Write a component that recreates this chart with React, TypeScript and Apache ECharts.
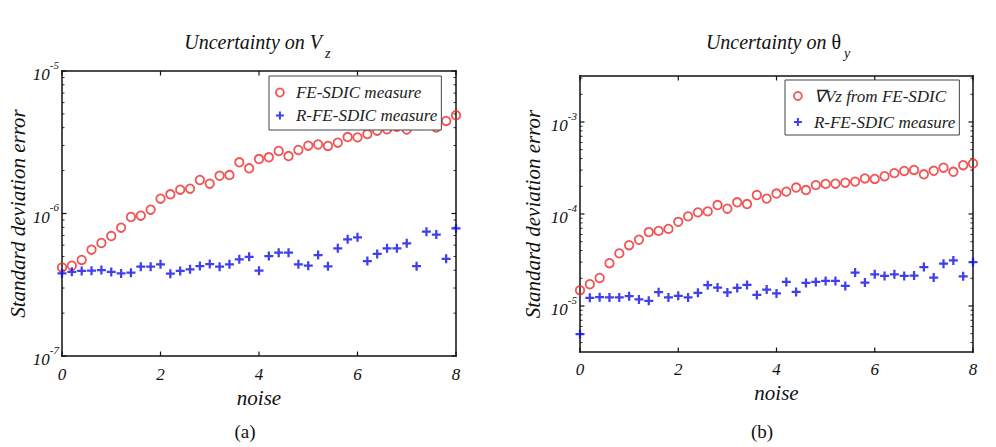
import React, { useEffect, useRef } from "react";
import * as echarts from "echarts";

// noise levels (x)
const noise = [0, 0.2, 0.4, 0.6, 0.8, 1, 1.2, 1.4, 1.6, 1.8, 2, 2.2, 2.4, 2.6, 2.8, 3, 3.2, 3.4, 3.6, 3.8, 4, 4.2, 4.4, 4.6, 4.8, 5, 5.2, 5.4, 5.6, 5.8, 6, 6.2, 6.4, 6.6, 6.8, 7, 7.2, 7.4, 7.6, 7.8, 8];

// (a) Uncertainty on Vz
const vzFeSdic = [4.18e-7, 4.30e-7, 4.72e-7, 5.57e-7, 6.21e-7, 6.95e-7, 7.95e-7, 9.45e-7, 9.65e-7, 1.063e-6, 1.27e-6, 1.364e-6, 1.469e-6, 1.493e-6, 1.718e-6, 1.618e-6, 1.84e-6, 1.862e-6, 2.287e-6, 2.076e-6, 2.41e-6, 2.48e-6, 2.746e-6, 2.53e-6, 2.79e-6, 2.99e-6, 3.05e-6, 2.98e-6, 3.14e-6, 3.44e-6, 3.42e-6, 3.61e-6, 3.81e-6, 3.90e-6, 4.06e-6, 3.88e-6, 4.18e-6, 4.30e-6, 4.01e-6, 4.46e-6, 4.89e-6];
const vzRFeSdic = [3.80e-7, 3.90e-7, 3.95e-7, 3.97e-7, 4.01e-7, 3.89e-7, 3.80e-7, 3.84e-7, 4.23e-7, 4.23e-7, 4.40e-7, 3.78e-7, 3.95e-7, 4.06e-7, 4.28e-7, 4.42e-7, 4.23e-7, 4.40e-7, 4.77e-7, 4.97e-7, 3.97e-7, 5.03e-7, 5.31e-7, 5.31e-7, 4.40e-7, 4.30e-7, 5.11e-7, 4.26e-7, 5.70e-7, 6.59e-7, 6.81e-7, 4.64e-7, 5.20e-7, 5.70e-7, 5.70e-7, 6.18e-7, 4.27e-7, 7.45e-7, 7.12e-7, 4.81e-7, 7.87e-7];

// (b) Uncertainty on theta_y
const thetaFeSdic = [1.485e-5, 1.724e-5, 2.016e-5, 2.92e-5, 3.73e-5, 4.58e-5, 5.25e-5, 6.36e-5, 6.55e-5, 6.89e-5, 8.22e-5, 9.42e-5, 1.041e-4, 1.067e-4, 1.251e-4, 1.141e-4, 1.341e-4, 1.282e-4, 1.608e-4, 1.47e-4, 1.669e-4, 1.75e-4, 1.938e-4, 1.82e-4, 2.062e-4, 2.124e-4, 2.135e-4, 2.189e-4, 2.25e-4, 2.436e-4, 2.406e-4, 2.573e-4, 2.78e-4, 2.935e-4, 3.01e-4, 2.70e-4, 2.95e-4, 3.186e-4, 2.877e-4, 3.39e-4, 3.54e-4];
const thetaRFeSdic = [4.94e-6, 1.227e-5, 1.248e-5, 1.239e-5, 1.239e-5, 1.279e-5, 1.178e-5, 1.138e-5, 1.413e-5, 1.239e-5, 1.289e-5, 1.239e-5, 1.389e-5, 1.681e-5, 1.588e-5, 1.403e-5, 1.572e-5, 1.694e-5, 1.321e-5, 1.511e-5, 1.368e-5, 1.825e-5, 1.42e-5, 1.78e-5, 1.825e-5, 1.871e-5, 1.871e-5, 1.652e-5, 2.307e-5, 1.798e-5, 2.211e-5, 2.119e-5, 2.211e-5, 2.119e-5, 2.14e-5, 2.651e-5, 2.037e-5, 2.884e-5, 3.131e-5, 2.103e-5, 3.0e-5];

const xTicks = [0, 2, 4, 6, 8];
const decadesA = [-7, -6, -5];
const decadesB = [-6, -5, -4, -3];
const legendA = ["FE-SDIC measure", "R-FE-SDIC measure"];
const legendB = ["\u2207Vz from FE-SDIC", "R-FE-SDIC measure"];

const SERIF = '"Liberation Serif", "Times New Roman", serif';
const RED = "#ee2a2a";
const BLUE = "#0f0fe6";
const INK = "#111111";
const PLUS = "path://M3,0H5V3H8V5H5V8H3V5H0V3H3Z";

const pairs = (ys: number[]) => ys.map((y, i) => [noise[i], y]);

function App() {
  const ref = useRef<HTMLDivElement>(null);

  useEffect(() => {
    if (!ref.current) return;
    const chart = echarts.init(ref.current, null, { renderer: "svg" });

    const yRich = {
      b: {
        fontFamily: SERIF,
        fontStyle: "italic",
        fontSize: 17,
        color: INK,
        lineHeight: 24,
        padding: [8, 0, 0, 0],
        verticalAlign: "bottom",
      },
      e: {
        fontFamily: SERIF,
        fontStyle: "italic",
        fontSize: 11,
        color: INK,
        lineHeight: 16,
        verticalAlign: "top",
      },
    };
    const yFormatter = (v: number) => {
      const e = Math.round(Math.log10(v));
      return `{b|10}{e|${e}}`;
    };

    const xBottom = (g: number, margin: number, nameGap: number) => ({
      type: "value",
      gridIndex: g,
      position: "bottom",
      min: xTicks[0],
      max: xTicks[xTicks.length - 1],
      interval: 2,
      axisLine: { show: false },
      axisTick: { show: false },
      axisLabel: {
        margin,
        fontFamily: SERIF,
        fontStyle: "italic",
        fontSize: 17,
        color: INK,
      },
      splitLine: { show: false },
      name: "noise",
      nameLocation: "middle",
      nameGap,
      nameTextStyle: {
        fontFamily: SERIF,
        fontStyle: "italic",
        fontSize: 21,
        color: INK,
      },
    });
    const yLeft = (g: number, min: number, max: number, nameGap: number, hideEnds: boolean) => ({
      type: "log",
      gridIndex: g,
      position: "left",
      min,
      max,
      axisLine: { show: false },
      axisTick: { show: false },
      axisLabel: {
        margin: 3,
        formatter: yFormatter,
        rich: yRich,
        showMinLabel: !hideEnds,
        showMaxLabel: !hideEnds,
      },
      splitLine: { show: false },
      name: "Standard deviation error",
      nameLocation: "middle",
      nameGap,
      nameTextStyle: {
        fontFamily: SERIF,
        fontStyle: "italic",
        fontSize: 21,
        color: INK,
      },
    });

    const circleStyle = { color: "rgba(255,255,255,0)", borderColor: RED, borderWidth: 1.8 };
    const plusStyle = { color: BLUE, borderWidth: 0 };

    const legendBase = {
      orient: "vertical",
      selectedMode: false,
      itemWidth: 22,
      backgroundColor: "#ffffff",
      borderColor: "#444",
      borderWidth: 1,
      borderRadius: 0,
      textStyle: {
        fontFamily: SERIF,
        fontStyle: "italic",
        fontSize: 17,
        color: "#222",
      },
    };

    const yMinA = 1e-7;
    const yMaxA = 1e-5;
    const yMinB = Math.pow(10, -5.5);
    const yMaxB = Math.pow(10, -2.5);

    // Box frame with inward ticks, drawn as thin filled bars placed via the axes' scales.
    const frameSeries = (xi: number, yi: number, ymin: number, ymax: number, decades: number[]) => ({
      type: "custom",
      name: "frame" + xi,
      coordinateSystem: "cartesian2d",
      xAxisIndex: xi,
      yAxisIndex: yi,
      silent: true,
      clip: false,
      z: 1,
      data: [[xTicks[0], ymin]],
      renderItem: (_params: any, api: any) => {
        const [x0, yT] = api.coord([xTicks[0], ymax]);
        const [x1, yB] = api.coord([xTicks[xTicks.length - 1], ymin]);
        const bar = (x: number, y: number, w: number, h: number) => ({
          type: "rect",
          shape: { x, y, width: w, height: h },
          style: { fill: INK },
        });
        const t = 1.5;
        const children: any[] = [
          bar(x0 - t / 2, yT - t / 2, x1 - x0 + t, t),
          bar(x0 - t / 2, yB - t / 2, x1 - x0 + t, t),
          bar(x0 - t / 2, yT - t / 2, t, yB - yT + t),
          bar(x1 - t / 2, yT - t / 2, t, yB - yT + t),
        ];
        for (const v of xTicks) {
          const [x] = api.coord([v, ymin]);
          children.push(bar(x - 0.6, yB - 4.5, 1.2, 4.5));
          children.push(bar(x - 0.6, yT, 1.2, 4.5));
        }
        for (const d of decades) {
          for (let k = 1; k <= 9; k++) {
            const v = k * Math.pow(10, d);
            if (v < ymin * 0.9999 || v > ymax * 1.0001) continue;
            const [, y] = api.coord([xTicks[0], v]);
            const len = k === 1 ? 4.5 : 2.5;
            const h = k === 1 ? 1.2 : 0.9;
            children.push(bar(x0, y - h / 2, len, h));
            children.push(bar(x1 - len, y - h / 2, len, h));
          }
        }
        return { type: "group", children };
      },
    });

    const option: any = {
      animation: false,
      grid: [
        { left: 62, top: 71, width: 394, height: 285 },
        { left: 580, top: 76, width: 393, height: 276 },
      ],
      xAxis: [xBottom(0, 10, 28), xBottom(1, 9, 30)],
      yAxis: [yLeft(0, yMinA, yMaxA, 34, false), yLeft(1, yMinB, yMaxB, 37, true)],
      legend: [
        {
          ...legendBase,
          left: 269,
          top: 76,
          itemHeight: 8,
          itemGap: 6,
          padding: [8, 4, 6, 6],
          textStyle: { ...legendBase.textStyle, lineHeight: 16 },
          data: [
            { name: legendA[0], icon: "circle", itemStyle: circleStyle },
            { name: legendA[1], icon: PLUS, itemStyle: plusStyle },
          ],
        },
        {
          ...legendBase,
          left: 785,
          top: 80,
          itemHeight: 8,
          itemGap: 8,
          padding: [7, 4, 4, 8],
          textStyle: { ...legendBase.textStyle, lineHeight: 18 },
          data: [
            { name: legendB[0], icon: "circle", itemStyle: circleStyle },
            { name: legendB[1], icon: PLUS, itemStyle: plusStyle },
          ],
        },
      ],
      series: [
        frameSeries(0, 0, yMinA, yMaxA, decadesA),
        frameSeries(1, 1, yMinB, yMaxB, decadesB),
        {
          type: "scatter",
          name: legendA[0],
          xAxisIndex: 0,
          yAxisIndex: 0,
          symbol: "circle",
          symbolSize: 8.5,
          clip: false,
          itemStyle: circleStyle,
          data: pairs(vzFeSdic),
        },
        {
          type: "scatter",
          name: legendA[1],
          xAxisIndex: 0,
          yAxisIndex: 0,
          symbol: PLUS,
          symbolSize: 9,
          clip: false,
          itemStyle: plusStyle,
          data: pairs(vzRFeSdic),
        },
        {
          type: "scatter",
          name: legendB[0],
          xAxisIndex: 1,
          yAxisIndex: 1,
          symbol: "circle",
          symbolSize: 8.5,
          clip: false,
          itemStyle: circleStyle,
          data: pairs(thetaFeSdic),
        },
        {
          type: "scatter",
          name: legendB[1],
          xAxisIndex: 1,
          yAxisIndex: 1,
          symbol: PLUS,
          symbolSize: 9,
          clip: false,
          itemStyle: plusStyle,
          data: pairs(thetaRFeSdic),
        },
      ],
      graphic: [
        {
          type: "text",
          x: 322,
          y: 42,
          style: {
            text: "Uncertainty on V",
            font: `italic 20px ${SERIF}`,
            fill: INK,
            align: "right",
            verticalAlign: "middle",
          },
        },
        {
          type: "text",
          x: 325,
          y: 53,
          style: {
            text: "z",
            font: `italic 14px ${SERIF}`,
            fill: INK,
            align: "left",
            verticalAlign: "middle",
          },
        },
        {
          type: "text",
          x: 841,
          y: 42,
          style: {
            text: "{i|Uncertainty on }{u|\u03B8}",
            align: "right",
            verticalAlign: "middle",
            rich: {
              i: { fontFamily: SERIF, fontStyle: "italic", fontSize: 20, fill: INK, color: INK },
              u: { fontFamily: SERIF, fontStyle: "normal", fontSize: 20, fill: INK, color: INK },
            },
          },
        },
        {
          type: "text",
          x: 844,
          y: 53,
          style: {
            text: "y",
            font: `italic 14px ${SERIF}`,
            fill: INK,
            align: "left",
            verticalAlign: "middle",
          },
        },
        {
          type: "text",
          x: 245,
          y: 431,
          style: {
            text: "(a)",
            font: `19px ${SERIF}`,
            fill: INK,
            align: "center",
            verticalAlign: "middle",
          },
        },
        {
          type: "text",
          x: 762,
          y: 431,
          style: {
            text: "(b)",
            font: `19px ${SERIF}`,
            fill: INK,
            align: "center",
            verticalAlign: "middle",
          },
        },
      ],
    };

    chart.setOption(option);
    return () => chart.dispose();
  }, []);

  return (
    <div
      ref={ref}
      style={{ position: "fixed", left: 0, top: 0, width: 996, height: 447, background: "#fff" }}
    />
  );
}

export default App;
